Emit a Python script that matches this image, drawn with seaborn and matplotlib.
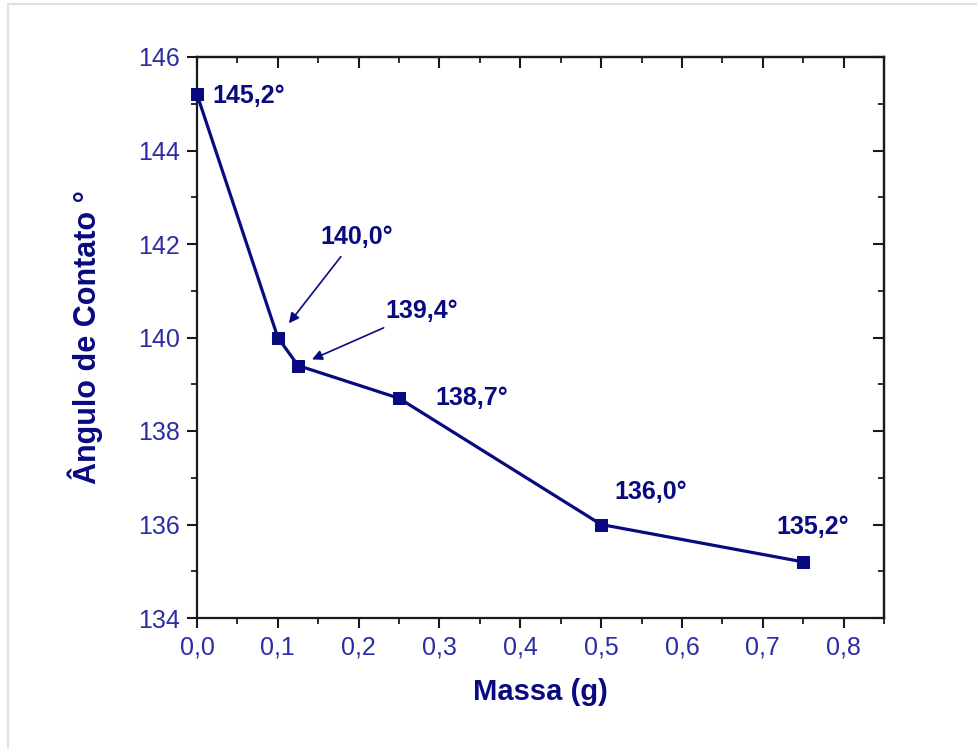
import matplotlib
matplotlib.use("Agg")
import matplotlib.pyplot as plt
import seaborn as sns
import pandas as pd
from matplotlib.ticker import MultipleLocator, FuncFormatter
from matplotlib.lines import Line2D

# Contact angle vs. added mass
massa = [0.0, 0.1, 0.125, 0.25, 0.5, 0.75]
angulo = [145.2, 140.0, 139.4, 138.7, 136.0, 135.2]
rotulos = ["145,2°", "140,0°", "139,4°", "138,7°", "136,0°", "135,2°"]

x_label = "Massa (g)"
y_label = "Ângulo de Contato °"

NAVY = "#0a0a80"
TICK_BLUE = "#2d2da3"
AXIS_DARK = "#1a1a1a"

sns.set_theme(style="ticks")
plt.rcParams["font.family"] = ["Liberation Sans", "DejaVu Sans"]

fig = plt.figure(figsize=(9.78, 7.49), dpi=100)
ax = fig.add_axes([197 / 978, 1 - 618 / 749, (884 - 197) / 978, (618 - 57) / 749])

df = pd.DataFrame({"massa": massa, "angulo": angulo})
sns.lineplot(data=df, x="massa", y="angulo", ax=ax, color=NAVY, linewidth=2.3,
             marker="s", markersize=9, markeredgecolor=NAVY, markerfacecolor=NAVY,
             sort=False, clip_on=False, zorder=5)

ax.set_xlim(0, 0.85)
ax.set_ylim(134, 146)
ax.xaxis.set_major_locator(MultipleLocator(0.1))
ax.xaxis.set_minor_locator(MultipleLocator(0.05))
ax.yaxis.set_major_locator(MultipleLocator(2))
ax.yaxis.set_minor_locator(MultipleLocator(1))
ax.xaxis.set_major_formatter(FuncFormatter(lambda v, p: f"{v:.1f}".replace(".", ",") if v <= 0.801 else ""))
ax.yaxis.set_major_formatter(FuncFormatter(lambda v, p: f"{v:.0f}"))

for s in ax.spines.values():
    s.set_visible(True)
    s.set_color(AXIS_DARK)
    s.set_linewidth(1.6)

ax.tick_params(axis="both", which="major", direction="out", length=7.5, width=1.5,
               color=AXIS_DARK, labelsize=18, labelcolor=TICK_BLUE, pad=5)
ax.tick_params(axis="both", which="minor", direction="out", length=4.5, width=1.3, color=AXIS_DARK)

# Inward ticks mirrored on the top and right edges
top = ax.secondary_xaxis("top")
top.set_xticks([i * 0.1 for i in range(9)])
top.xaxis.set_minor_locator(MultipleLocator(0.05))
top.tick_params(which="major", direction="in", length=8, width=1.5, color=AXIS_DARK, labeltop=False)
top.tick_params(which="minor", direction="in", length=4.5, width=1.3, color=AXIS_DARK)
top.spines["top"].set_linewidth(1.6)
top.spines["top"].set_color(AXIS_DARK)
right = ax.secondary_yaxis("right")
right.set_yticks(list(range(134, 147, 2)))
right.yaxis.set_minor_locator(MultipleLocator(1))
right.tick_params(which="major", direction="in", length=8, width=1.5, color=AXIS_DARK, labelright=False)
right.tick_params(which="minor", direction="in", length=4.5, width=1.3, color=AXIS_DARK)
right.spines["right"].set_linewidth(1.6)
right.spines["right"].set_color(AXIS_DARK)

ax.set_xlabel(x_label, fontsize=21, fontweight="bold", color=NAVY, va="center")
ax.set_ylabel(y_label, fontsize=22, fontweight="bold", color=NAVY, va="center")
ax.xaxis.set_label_coords(0.5, -0.132)
ax.yaxis.set_label_coords(-0.163, 0.5)

ann_kw = dict(fontsize=18, fontweight="bold", color=NAVY, ha="center", va="center")
arrow_kw = dict(arrowstyle="-|>", color=NAVY, lw=1.2, mutation_scale=15)

# Value labels, positioned beside each point
ax.annotate(rotulos[0], xy=(massa[0], angulo[0]), xytext=(0.064, 145.17), **ann_kw)
ax.annotate(rotulos[1], xy=(massa[1], angulo[1]), xytext=(0.197, 142.15),
            arrowprops=dict(shrinkA=4, shrinkB=13, **arrow_kw), **ann_kw)
ax.annotate(rotulos[2], xy=(massa[2], angulo[2]), xytext=(0.2785, 140.57),
            arrowprops=dict(shrinkA=3, shrinkB=11, **arrow_kw), **ann_kw)
ax.annotate(rotulos[3], xy=(massa[3], angulo[3]), xytext=(0.340, 138.71), **ann_kw)
ax.annotate(rotulos[4], xy=(massa[4], angulo[4]), xytext=(0.561, 136.70), **ann_kw)
ax.annotate(rotulos[5], xy=(massa[5], angulo[5]), xytext=(0.762, 135.95), **ann_kw)

# Page frame lines
fig.add_artist(Line2D([8 / 978, 1], [1 - 4 / 749, 1 - 4 / 749], transform=fig.transFigure,
                      color="#d8e2ef", lw=1.5))
fig.add_artist(Line2D([8 / 978, 8 / 978], [0, 1 - 4 / 749], transform=fig.transFigure,
                      color="#d8e2ef", lw=1.5))

fig.savefig("out.png", dpi=100, facecolor="white")
